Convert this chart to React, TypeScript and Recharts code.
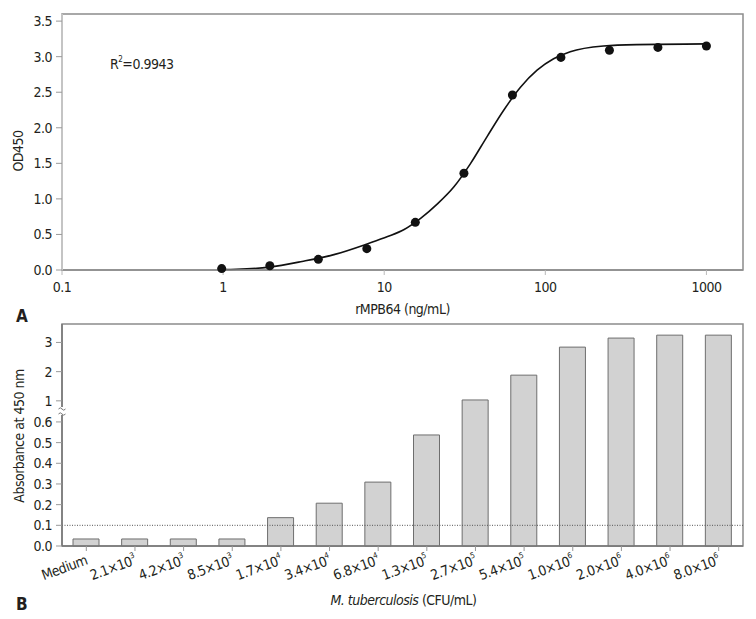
import React from "react";
import {
  Bar,
  BarChart,
  ComposedChart,
  Line,
  ReferenceArea,
  ReferenceLine,
  Scatter,
  XAxis,
  YAxis,
} from "recharts";

const FONT = "'Liberation Sans Narrow', 'DejaVu Sans Condensed', 'Arial Narrow', sans-serif";
const TEXT = "#231f20";
const FRAME = "#8c8c8c";
const FS = 14;
const LS = -0.5;

// ---- panel A: standard curve ----
const concentrations = [1000, 500, 250, 125, 62.5, 31.25, 15.6, 7.8, 3.9, 1.95, 0.98];
const od450 = [3.15, 3.13, 3.09, 2.99, 2.46, 1.36, 0.67, 0.3, 0.15, 0.06, 0.02];

// fitted curve
const fitX = [1, 1.21, 1.93, 3.09, 4.94, 7.91, 10.5, 13.3, 16.9, 21.4, 27.1, 34.4, 43.6, 55.3, 70.1, 88.9, 112.6, 142.8, 229.6, 369, 1000];
const fitY = [0.005, 0.01, 0.04, 0.12, 0.22, 0.37, 0.47, 0.57, 0.73, 0.93, 1.17, 1.5, 1.88, 2.25, 2.57, 2.81, 2.97, 3.07, 3.15, 3.17, 3.18];

const xTicksA = [0.1, 1, 10, 100, 1000];
const yTicksA = [0, 0.5, 1, 1.5, 2, 2.5, 3, 3.5];

// ---- panel B: M. tuberculosis dilutions ----
const cfuLabels = [
  "Medium", "2.1×10^3", "4.2×10^3", "8.5×10^3", "1.7×10^4", "3.4×10^4", "6.8×10^4",
  "1.3×10^5", "2.7×10^5", "5.4×10^5", "1.0×10^6", "2.0×10^6", "4.0×10^6", "8.0×10^6",
];
const absorbance = [0.034, 0.034, 0.034, 0.034, 0.137, 0.207, 0.309, 0.537, 1.03, 1.88, 2.84, 3.15, 3.25, 3.25];
const cutoff = 0.1;
const yTicksB = [0, 0.1, 0.2, 0.3, 0.4, 0.5, 0.6, 1, 2, 3];
const yTickTextB = ["0.0", "0.1", "0.2", "0.3", "0.4", "0.5", "0.6", "1", "2", "3"];

// broken axis: 0-0.6 linear, then 1-3.6 compressed
const toDisplay = (v: number) => (v <= 0.6 ? v : 0.702 + (v - 1) * 0.1412);
const TOP_B = 1.0736;

const pointData = concentrations.map((x, i) => ({ x, y: od450[i] }));
const fitData = fitX.map((x, i) => ({ x, y: fitY[i] }));
const barData = cfuLabels.map((name, i) => ({ name, v: absorbance[i], d: toDisplay(absorbance[i]) }));

const tickStyle = { fill: TEXT, fontSize: FS, fontFamily: FONT, letterSpacing: LS };

const CatTick = (props: any) => {
  const { x, y, payload } = props;
  const [base, exp] = String(payload.value).split("^");
  return (
    <g transform={`translate(${x + 2},${y + 11}) rotate(-20)`}>
      <text textAnchor="end" fontSize={FS} fontFamily={FONT} fill={TEXT} letterSpacing={LS}>
        {base}
        {exp ? (
          <tspan fontSize={8} dy={-7}>
            {exp}
          </tspan>
        ) : null}
      </text>
    </g>
  );
};

export default function App() {
  return (
    <div style={{ position: "absolute", left: 0, top: 0, width: 756, height: 619, background: "#fff" }}>
      <div style={{ position: "absolute", left: 0, top: 0 }}>
        <ComposedChart width={756} height={310} margin={{ top: 14, right: 13, bottom: 10, left: 0 }}>
          <ReferenceArea
            x1={0.1}
            x2={1687}
            y1={0}
            y2={3.6}
            fill="none"
            stroke={FRAME}
            strokeWidth={1.5}
            fillOpacity={0}
            ifOverflow="visible"
          />
          <XAxis
            dataKey="x"
            type="number"
            scale="log"
            domain={[0.1, 1687]}
            allowDataOverflow
            ticks={xTicksA}
            interval={0}
            tickFormatter={(v) => String(v)}
            height={30}
            tickSize={5}
            tickMargin={7}
            axisLine={{ stroke: FRAME, strokeWidth: 1.5 }}
            tickLine={{ stroke: "#b8b8b8" }}
            tick={tickStyle}
          />
          <YAxis
            type="number"
            domain={[0, 3.6]}
            ticks={yTicksA}
            interval={0}
            tickFormatter={(v) => Number(v).toFixed(1)}
            width={62}
            tickSize={6}
            tickMargin={4}
            axisLine={{ stroke: "#c4c4c4", strokeWidth: 2 }}
            tickLine={{ stroke: "#999" }}
            tick={tickStyle}
          />
          <Line
            data={fitData}
            dataKey="y"
            type="monotone"
            dot={false}
            stroke="#111"
            strokeWidth={1.6}
            isAnimationActive={false}
          />
          <Scatter data={pointData} dataKey="y" fill="#111" isAnimationActive={false} />
        </ComposedChart>
      </div>

      <div style={{ position: "absolute", left: 0, top: 310 }}>
        <BarChart
          width={756}
          height={309}
          data={barData}
          margin={{ top: 14, right: 13, bottom: 23, left: 0 }}
          barSize={26}
        >
          <ReferenceArea
            y1={0}
            y2={TOP_B}
            fill="none"
            fillOpacity={0}
            stroke={FRAME}
            strokeWidth={1.5}
            ifOverflow="visible"
          />
          <XAxis
            dataKey="name"
            interval={0}
            height={50}
            tickSize={5}
            tick={<CatTick />}
            tickLine={{ stroke: "#999" }}
            axisLine={{ stroke: "#777", strokeWidth: 1.5 }}
          />
          <YAxis
            type="number"
            domain={[0, TOP_B]}
            ticks={yTicksB.map(toDisplay)}
            interval={0}
            tickFormatter={(v) => yTickTextB[yTicksB.findIndex((t) => Math.abs(toDisplay(t) - Number(v)) < 1e-6)]}
            width={62}
            tickSize={6}
            tickMargin={4}
            axisLine={{ stroke: "#777", strokeWidth: 1.5 }}
            tickLine={{ stroke: "#999" }}
            tick={tickStyle}
          />
          <Bar dataKey="d" fill="#d2d2d2" stroke="#6e6e6e" strokeWidth={1} isAnimationActive={false} />
          <ReferenceLine y={toDisplay(cutoff)} stroke="#555" strokeDasharray="1 1.5" />
        </BarChart>
      </div>

      <svg
        width={756}
        height={619}
        style={{ position: "absolute", left: 0, top: 0, pointerEvents: "none" }}
        fontFamily={FONT}
        fill={TEXT}
        letterSpacing={LS}
      >
        <text x={110} y={69} fontSize={FS}>
          R<tspan fontSize={8} dy={-7}>2</tspan>
          <tspan dy={7}>=0.9943</tspan>
        </text>
        <text transform="translate(23,151) rotate(-90)" textAnchor="middle" fontSize={FS}>
          OD450
        </text>
        <text x={402.5} y={314} textAnchor="middle" fontSize={FS}>
          rMPB64 (ng/mL)
        </text>
        <text x={16} y={322} fontSize={17} fontWeight="bold" letterSpacing={0}>
          A
        </text>

        <rect x={58} y={407} width={8} height={8} fill="#fff" />
        <path d="M58.5,409 q1.8,-2.4 3.5,0 t3.5,0" stroke="#777" strokeWidth={1} fill="none" />
        <path d="M58.5,414 q1.8,-2.4 3.5,0 t3.5,0" stroke="#777" strokeWidth={1} fill="none" />

        <text transform="translate(24,436) rotate(-90)" textAnchor="middle" fontSize={FS}>
          Absorbance at 450 nm
        </text>
        <text x={403.5} y={605} textAnchor="middle" fontSize={FS}>
          <tspan fontStyle="italic">M. tuberculosis</tspan> (CFU/mL)
        </text>
        <text x={16} y={610} fontSize={17} fontWeight="bold" letterSpacing={0}>
          B
        </text>
      </svg>
    </div>
  );
}
